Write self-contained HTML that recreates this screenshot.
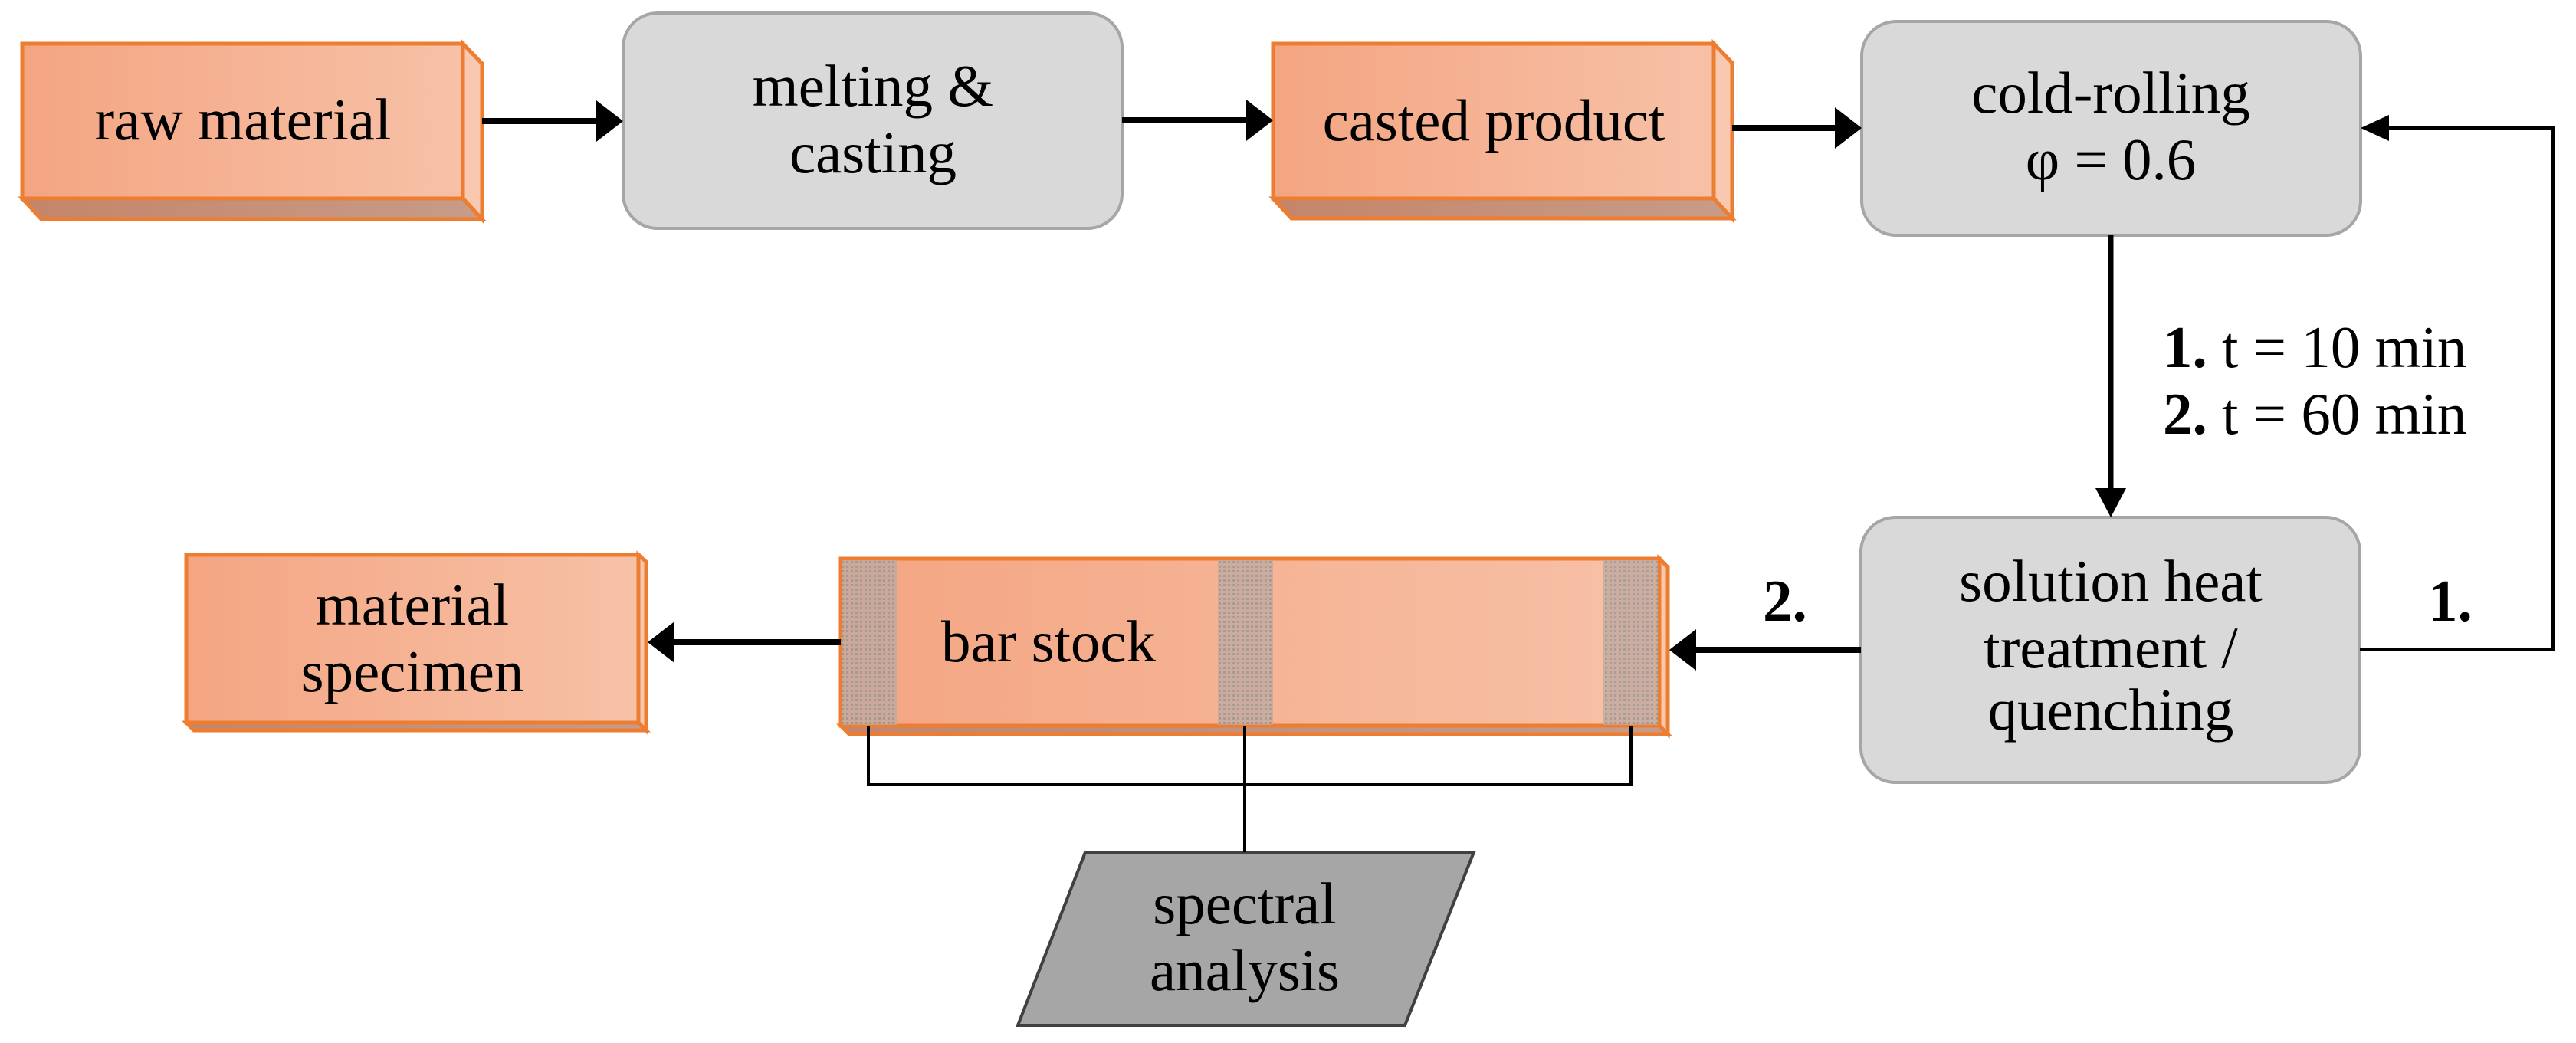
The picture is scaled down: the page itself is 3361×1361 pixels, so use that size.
<!DOCTYPE html>
<html><head><meta charset="utf-8"><style>
html,body{margin:0;padding:0;background:#fff}
svg{display:block}
text{font-family:"Liberation Serif",serif;font-size:77px;fill:#000}
</style></head><body>
<svg width="3361" height="1361" viewBox="0 0 3361 1361" xmlns="http://www.w3.org/2000/svg">
<defs>
<linearGradient id="og" x1="0" x2="1" y1="0" y2="0"><stop offset="0" stop-color="#f4a582"/><stop offset="1" stop-color="#f7c1a7"/></linearGradient>
<linearGradient id="bg" x1="0" x2="1" y1="0" y2="0"><stop offset="0" stop-color="#c4856a"/><stop offset="1" stop-color="#c79c88"/></linearGradient>
<pattern id="hp" width="6" height="6" patternUnits="userSpaceOnUse"><rect width="6" height="6" fill="#c0aaa0"/><rect width="3" height="3" fill="#949494"/></pattern>
</defs>
<g stroke="#ed7d31" stroke-width="5" stroke-linejoin="miter">
<polygon points="29,259 604,259 629,286 54,286" fill="url(#bg)"/>
<polygon points="604,57 629,83 629,286 604,259" fill="#f8c9b0"/>
<rect x="29" y="57" width="575" height="202" fill="url(#og)"/>
<polygon points="1661,259 2236,259 2260,285 1685,285" fill="url(#bg)"/>
<polygon points="2236,57 2260,82 2260,285 2236,259" fill="#f8c9b0"/>
<rect x="1661" y="57" width="575" height="202" fill="url(#og)"/>
<polygon points="243,943 833,943 843,953 253,953" fill="url(#bg)"/>
<polygon points="833,724 843,733 843,953 833,943" fill="#f8c9b0"/>
<rect x="243" y="724" width="590" height="219" fill="url(#og)"/>
<polygon points="1097,947 2165,947 2176,958 1108,958" fill="url(#bg)"/>
<polygon points="2165,729 2176,740 2176,958 2165,947" fill="#f8c9b0"/>
<rect x="1097" y="729" width="1068" height="218" fill="url(#og)"/>
</g>
<rect x="1099" y="731" width="71" height="215" fill="url(#hp)" opacity="0.8"/>
<rect x="1589" y="731" width="72" height="215" fill="url(#hp)" opacity="0.8"/>
<rect x="2091" y="731" width="72" height="215" fill="url(#hp)" opacity="0.8"/>
<g fill="#d9d9d9" stroke="#a6a6a6" stroke-width="4">
<rect x="813" y="17" width="651" height="281" rx="45"/>
<rect x="2429" y="28" width="651" height="279" rx="45"/>
<rect x="2428" y="675" width="651" height="346" rx="45"/>
</g>
<polygon points="1416,1112 1923,1112 1833,1338 1328,1338" fill="#a6a6a6" stroke="#404040" stroke-width="4"/>
<g stroke="#000" fill="none">
<line x1="629" y1="158" x2="780" y2="158" stroke-width="8"/>
<line x1="1464" y1="157" x2="1630" y2="157" stroke-width="8"/>
<line x1="2260" y1="167" x2="2396" y2="167" stroke-width="8"/>
<line x1="2754" y1="307" x2="2754" y2="640" stroke-width="7"/>
<line x1="2428" y1="848" x2="2212" y2="848" stroke-width="8"/>
<line x1="1097" y1="838" x2="880" y2="838" stroke-width="8"/>
<polyline points="3079,847 3331,847 3331,167 3112,167" stroke-width="4"/>
<polyline points="1133,947 1133,1024 2128,1024 2128,947" stroke-width="4"/>
<line x1="1624" y1="947" x2="1624" y2="1112" stroke-width="4"/>
</g>
<g fill="#000">
<polygon points="813,158 778,131 778,185"/>
<polygon points="1661,157 1626,130 1626,184"/>
<polygon points="2429,167 2394,140 2394,194"/>
<polygon points="2754,675 2734,637 2774,637"/>
<polygon points="2178,848 2213,821 2213,875"/>
<polygon points="845,838 880,811 880,865"/>
<polygon points="3080,167 3117,150 3117,184"/>
</g>
<g text-anchor="middle">
<text x="317" y="182">raw material</text>
<text x="1139" y="138">melting &amp;</text>
<text x="1139" y="225">casting</text>
<text x="1949" y="183">casted product</text>
<text x="2754" y="147">cold-rolling</text>
<text x="2754" y="234">φ = 0.6</text>
<text x="2754" y="784">solution heat</text>
<text x="2754" y="871">treatment /</text>
<text x="2754" y="952">quenching</text>
<text x="538" y="815">material</text>
<text x="538" y="902">specimen</text>
<text x="1624" y="1205">spectral</text>
<text x="1624" y="1292">analysis</text>
</g>
<text x="1228" y="863">bar stock</text>
<text x="2822" y="479"><tspan font-weight="bold">1.</tspan> t = 10 min</text>
<text x="2822" y="566"><tspan font-weight="bold">2.</tspan> t = 60 min</text>
<text x="3168" y="810" font-weight="bold">1.</text>
<text x="2300" y="810" font-weight="bold">2.</text>
</svg>
</body></html>
